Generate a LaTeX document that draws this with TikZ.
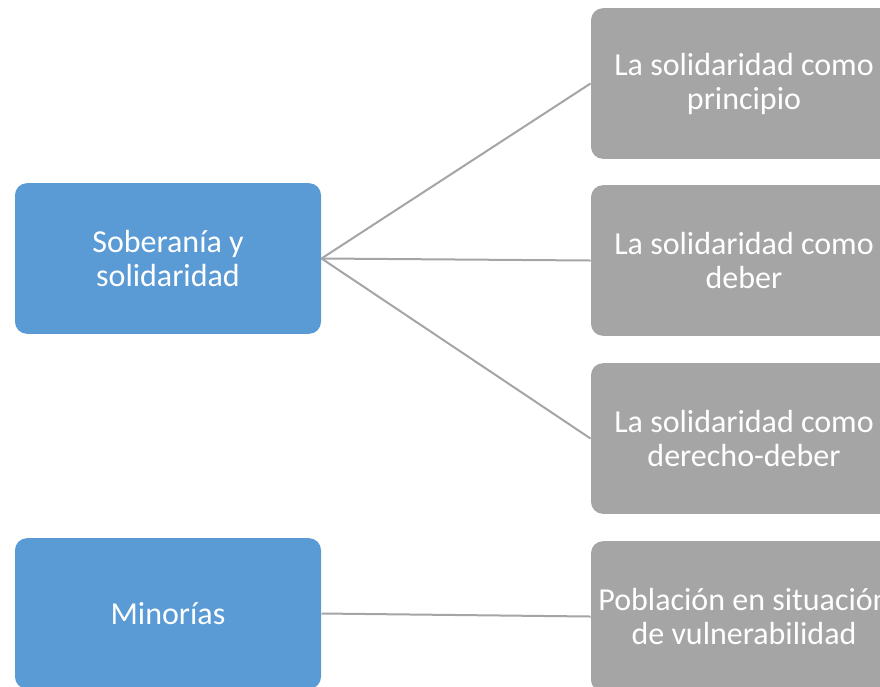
\documentclass[tikz,border=0pt]{standalone}
\usepackage{fontspec}
\setmainfont{Carlito}
\tikzset{every picture/.style={line width=0.75pt}}
\tikzset{
  bluebox/.style={fill={rgb,255:red,91;green,155;blue,213}, rounded corners=9pt, minimum width=229.5pt, minimum height=113pt, inner sep=0pt, text=white, align=center, font=\fontsize{24}{25.5}\selectfont},
  graybox/.style={bluebox, fill={rgb,255:red,165;green,165;blue,165}},
  link/.style={draw={rgb,255:red,165;green,165;blue,165}, line width=1.5pt}
}

\begin{document}
\begin{tikzpicture}[x=0.75pt,y=0.75pt,yscale=-1,xscale=1]
\useasboundingbox (0,0) rectangle (880,686);
\clip (0,0) rectangle (880,686);

% left boxes
\node [bluebox] (sob) at (168,258.5) {Soberanía y\\solidaridad};
\node [bluebox] (min) at (168,613.5) {Minorías};

% right boxes
\node [graybox] (prin) at (744,83.5) {La solidaridad como\\principio};
\node [graybox] (deb) at (744,260.5) {La solidaridad como\\deber};
\node [graybox] (dder) at (744,438.5) {La solidaridad como\\derecho-deber};
\node [graybox] (pob) at (744,616.5) {Población en situación\\de vulnerabilidad};

% connectors
\draw [link] (sob.east) -- (prin.west);
\draw [link] (sob.east) -- (deb.west);
\draw [link] (sob.east) -- (dder.west);
\draw [link] (min.east) -- (pob.west);
\end{tikzpicture}
\end{document}
